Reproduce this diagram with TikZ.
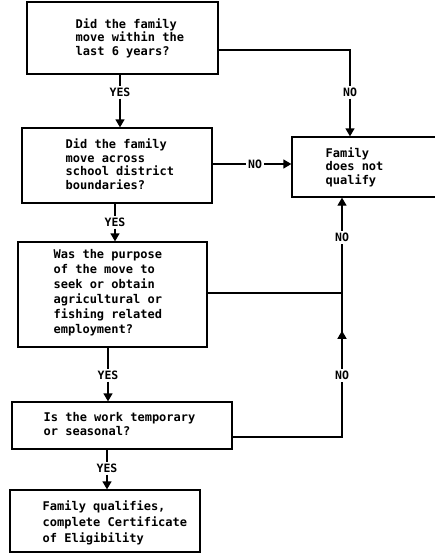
\documentclass[tikz,border=0pt]{standalone}
\usepackage{fontspec}
\setmonofont{DejaVu Sans Mono}
\usetikzlibrary{arrows.meta,decorations.markings}
\begin{document}
\begin{tikzpicture}[x=1pt,y=-1pt, line width=1.3pt,
 box/.style={draw, inner sep=0pt},
 txt/.style={anchor=west, align=left, inner sep=0pt, font=\ttfamily\bfseries\fontsize{12}{13.5}\selectfont},
 lbl/.style={inner sep=1.5pt, font=\ttfamily\bfseries\fontsize{11.5}{12}\selectfont},
 arr/.style={-{Triangle[width=9pt,length=8pt]}},
 midarr/.style={postaction={decorate}, decoration={markings, mark=at position 0.5 with {\arrow{Triangle[width=9pt,length=8pt]}}}}]
\useasboundingbox (0,0) rectangle (435,554);
\clip (0,0) rectangle (435,554);
\fill[white] (0,0) rectangle (435,554);
% boxes
\node[box, minimum width=191pt, minimum height=72pt] (b1) at (122.5,38) {};
\node[box, minimum width=190pt, minimum height=75pt] (b2) at (117,165.5) {};
\node[box, minimum width=158pt, minimum height=60pt] (nq) at (371,167) {};
\node[box, minimum width=189pt, minimum height=105pt] (b3) at (112.5,294.5) {};
\node[box, minimum width=220pt, minimum height=47pt] (b4) at (122,425.5) {};
\node[box, minimum width=190pt, minimum height=62pt] (b5) at (105,521) {};
% texts
\node[txt] (t1) at (75,38) {Did the family\\move within the\\last 6 years?};
\node[txt] (t2) at (65,164) {Did the family\\move across\\school district\\boundaries?};
\node[txt] (tq) at (325,167) {Family\\does not\\qualify};
\node[txt, font=\ttfamily\bfseries\fontsize{12}{15}\selectfont] (t3) at (53,293) {Was the purpose\\of the move to\\seek or obtain\\agricultural or\\fishing related\\employment?};
\node[txt] (t4) at (43,424) {Is the work temporary\\ or seasonal?};
\node[txt, font=\ttfamily\bfseries\fontsize{12}{16}\selectfont] (t5) at (42,523) {Family qualifies,\\complete Certificate\\of Eligibility};
% labels
\node[lbl] (y1) at (120,92) {YES};
\node[lbl] (y2) at (115,222) {YES};
\node[lbl] (y3) at (108,375) {YES};
\node[lbl] (y4) at (107,468) {YES};
\node[lbl] (n1) at (350,92) {NO};
\node[lbl] (n2) at (255,164) {NO};
\node[lbl] (n3) at (342,237) {NO};
\node[lbl] (n4) at (342,375) {NO};
\coordinate (j1) at (342,293);
% connectors
\draw (b1.south -| y1) -- (y1.north);
\draw[arr] (y1.south) -- (b2.north -| y1);
\draw (b2.south -| y2) -- (y2.north);
\draw[arr] (y2.south) -- (b3.north -| y2);
\draw (b3.south -| y3) -- (y3.north);
\draw[arr] (y3.south) -- (b4.north -| y3);
\draw (b4.south -| y4) -- (y4.north);
\draw[arr] (y4.south) -- (b5.north -| y4);
\draw (b1.east |- 0,50) -| (n1.north);
\draw[arr] (n1.south) -- (nq.north -| n1);
\draw (b2.east |- n2) -- (n2.west);
\draw[arr] (n2.east) -- (nq.west |- n2);
\draw (b3.east |- j1) -- (j1) -- (n3.south);
\draw[arr] (n3.north) -- (nq.south -| n3);
\draw (b4.east |- 0,437) -| (n4.south);
\draw[midarr] (n4.north) -- (j1);
\end{tikzpicture}
\end{document}
